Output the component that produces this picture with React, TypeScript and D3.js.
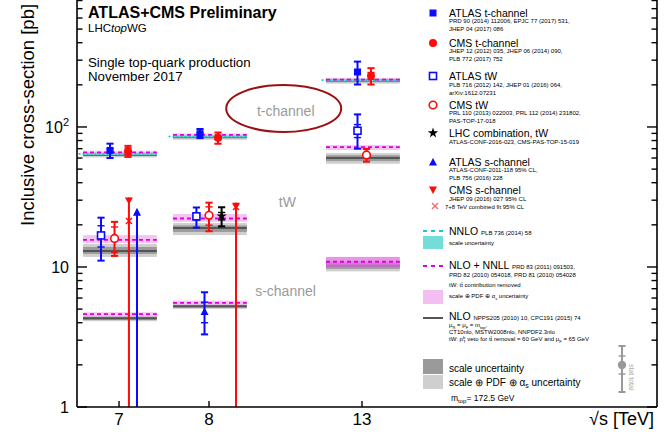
import React from 'react';
import * as d3 from 'd3';

const FONT = "'Liberation Sans', Arial, Helvetica, sans-serif";

// ---- categories ----
const energyLabels = ['7', '8', '13'];
const energyPos = [1, 2, 3.7];

// ---- theory: t-channel [7, 8, 13 TeV] ----
const tNLONNLL = [65.9, 87.8, 218];
const tNLONNLLLo = [63.9, 85.0, 212];
const tNLONNLLHi = [67.9, 90.6, 224];
const tNNLO = [64.2, 85.5, 216];
const tNNLOLo = [63.0, 84.2, 212];
const tNNLOHi = [65.4, 86.8, 220];
const tNLO = [63.4, 84.7, 214];
const tNLOScaleLo = [62.0, 83.0, 209];
const tNLOScaleHi = [64.8, 86.4, 219];
const tNLOTotLo = [60.6, 81.0, 204];
const tNLOTotHi = [66.2, 88.2, 224];

// ---- theory: tW ----
const wNLONNLL = [15.6, 22.2, 71.7];
const wNLONNLLLo = [14.8, 21.0, 68.4];
const wNLONNLLHi = [16.9, 23.9, 74.3];
const wNLO = [13.0, 19.0, 60.1];
const wNLOScaleLo = [12.4, 17.8, 57.1];
const wNLOScaleHi = [13.9, 19.8, 62.8];
const wNLOTotLo = [11.8, 16.9, 54.6];
const wNLOTotHi = [14.6, 20.6, 65.0];

// ---- theory: s-channel ----
const sNLONNLL = [4.6, 5.55, 10.9];
const sNLONNLLLo = [4.45, 5.38, 9.9];
const sNLONNLLHi = [4.75, 5.75, 11.8];
const sNLO = [4.3, 5.25, 10.2];
const sNLOScaleLo = [4.18, 5.12, 9.7];
const sNLOScaleHi = [4.42, 5.38, 10.7];
const sNLOTotLo = [4.1, 5.02, 9.3];
const sNLOTotHi = [4.5, 5.5, 11.0];

// ---- measurements ----
const atlasT = [68, 89.6, 247];
const atlasTUp = [8, 7.1, 46];
const atlasTDn = [8, 6.3, 46];
const atlasTStat = [2.0, 1.2, 6];
const cmsT = [67.2, 83.6, 232];
const cmsTErr = [6.1, 7.7, 31];
const cmsTStat = [3.7, 2.3, 13];
const atlasW = [16.8, 23.0, 94];
const atlasWUp = [5.7, 3.6, 29];
const atlasWDn = [5.7, 3.9, 24];
const atlasWStat = [2.9, 1.3, 10];
const cmsW = [16.0, 23.4, 63.1];
const cmsWUp = [5.0, 5.4, 6.6];
const cmsWDn = [4.0, 5.4, 6.6];
const cmsWStat = [3.3, 3.5, 1.8];
const lhcW = [23.1]; // 8 TeV
const lhcWErr = [3.6];
const lhcWStat = [1.4];
const atlasS = [4.8]; // 8 TeV
const atlasSUp = [1.8];
const atlasSDn = [1.5];
const atlasSStat = [0.8];
const atlasSLimit = [26.5]; // 7 TeV, 95% CL
const cmsSLimit = [31.4, 28.8]; // 7, 8 TeV, 95% CL
const cmsSComb = [21.3, 26.8]; // 7+8 TeV combined fit 95% CL

// ---- legend texts ----
const legendMain = [
  { name: 'ATLAS t-channel', refs: ['PRD 90 (2014) 112006, EPJC 77 (2017) 531,', 'JHEP 04 (2017) 086'] },
  { name: 'CMS t-channel', refs: ['JHEP 12 (2012) 035, JHEP 06 (2014) 090,', 'PLB 772 (2017) 752'] },
  { name: 'ATLAS tW', refs: ['PLB 716 (2012) 142, JHEP 01 (2016) 064,', 'arXiv:1612.07231'] },
  { name: 'CMS tW', refs: ['PRL 110 (2013) 022003, PRL 112 (2014) 231802,', 'PAS-TOP-17-018'] },
  { name: 'LHC combination, tW', refs: ['ATLAS-CONF-2016-023, CMS-PAS-TOP-15-019'] },
  { name: 'ATLAS s-channel', refs: ['ATLAS-CONF-2011-118 95% CL,', 'PLB 756 (2016) 228'] },
  { name: 'CMS s-channel', refs: ['JHEP 09 (2016) 027 95% CL'] },
];

const BLUE = '#0a0aff';
const RED = '#ff0a0a';
const CYAN_LINE = '#1ec8c8';
const CYAN_BAND = '#74ddd8';
const MAG = '#dd00dd';
const PINK = '#f3bff1';
const GRAY_LINE = '#555555';
const GRAY_DARK = '#9a9a9a';
const GRAY_LIGHT = '#cfcfcf';

type MarkerType = 'sqFill' | 'cirFill' | 'sqOpen' | 'cirOpen' | 'star' | 'triUp' | 'triDown' | 'cross';

function Marker({ type, cx, cy, color }: { type: MarkerType; cx: number; cy: number; color: string }) {
  switch (type) {
    case 'sqFill':
      return <rect x={cx - 3.5} y={cy - 3.5} width={7} height={7} fill={color} />;
    case 'cirFill':
      return <circle cx={cx} cy={cy} r={4} fill={color} />;
    case 'sqOpen':
      return <rect x={cx - 3.5} y={cy - 3.5} width={7} height={7} fill="white" stroke={color} strokeWidth={1.6} />;
    case 'cirOpen':
      return <circle cx={cx} cy={cy} r={3.8} fill="white" stroke={color} strokeWidth={1.6} />;
    case 'star':
      return <path d={d3.symbol().type(d3.symbolStar).size(34)() as string} transform={`translate(${cx},${cy})`} fill={color} />;
    case 'triUp':
      return <path d={`M${cx},${cy - 4} L${cx + 4},${cy + 3.5} L${cx - 4},${cy + 3.5} Z`} fill={color} />;
    case 'triDown':
      return <path d={`M${cx - 4},${cy - 3.5} L${cx + 4},${cy - 3.5} L${cx},${cy + 4} Z`} fill={color} />;
    case 'cross':
      return (
        <g stroke={color} strokeWidth={1.4}>
          <line x1={cx - 3} x2={cx + 3} y1={cy - 3} y2={cy + 3} />
          <line x1={cx - 3} x2={cx + 3} y1={cy + 3} y2={cy - 3} />
        </g>
      );
  }
  return null;
}

function ErrorBar({ cx, yTop, yBot, sTop, sBot, color }: { cx: number; yTop: number; yBot: number; sTop?: number; sBot?: number; color: string }) {
  const c = 3.6;
  return (
    <g stroke={color}>
      <line x1={cx} x2={cx} y1={yTop} y2={yBot} strokeWidth={2} />
      <line x1={cx - c} x2={cx + c} y1={yTop} y2={yTop} strokeWidth={2} />
      <line x1={cx - c} x2={cx + c} y1={yBot} y2={yBot} strokeWidth={2} />
      {sTop !== undefined && <line x1={cx - c} x2={cx + c} y1={sTop} y2={sTop} strokeWidth={1.4} />}
      {sBot !== undefined && <line x1={cx - c} x2={cx + c} y1={sBot} y2={sBot} strokeWidth={1.4} />}
    </g>
  );
}

export default function App() {
  const W = 664;
  const H = 438;
  const plot = { left: 77, right: 657, top: 0, bottom: 407 };
  const x = d3.scaleLinear().domain([0.533, 6.978]).range([plot.left, plot.right]);
  const y = d3.scaleLog().domain([1, 807]).range([plot.bottom, plot.top]);

  const bandL = (i: number) => x(energyPos[i] - 0.4);
  const bandR = (i: number) => x(energyPos[i] + 0.42);

  const band = (i: number, lo: number, hi: number, fill: string, op = 1, key = '') => (
    <rect key={key} x={bandL(i)} width={bandR(i) - bandL(i)} y={y(hi)} height={y(lo) - y(hi)} fill={fill} opacity={op} />
  );
  const hline = (i: number, v: number, color: string, dash: string | undefined, sw: number, extL = 0, key = '') => (
    <line key={key} x1={x(energyPos[i] - 0.4 - extL)} x2={bandR(i)} y1={y(v)} y2={y(v)} stroke={color} strokeWidth={sw} strokeDasharray={dash} />
  );

  // offsets (axis units) of the measurement markers relative to the energy position
  const offAtlasT = [-0.1, -0.1, -0.05];
  const offCmsT = [0.1, 0.1, 0.1];
  const offAtlasW = [-0.2, -0.14, -0.05];
  const offCmsW = [-0.05, 0, 0.05];
  const offLhcW = 0.14;
  const offAtlasS = [0.2, -0.05];
  const offCmsS = [0.11, 0.3];

  const theory: React.ReactNode[] = [];
  energyPos.forEach((_, i) => {
    // t-channel
    theory.push(band(i, tNLOTotLo[i], tNLOTotHi[i], GRAY_LIGHT, 1, `t1${i}`));
    theory.push(band(i, tNLOScaleLo[i], tNLOScaleHi[i], GRAY_DARK, 1, `t2${i}`));
    theory.push(hline(i, tNLO[i], GRAY_LINE, undefined, 2, 0, `t3${i}`));
    theory.push(band(i, tNLONNLLLo[i], tNLONNLLHi[i], PINK, 0.55, `t4${i}`));
    theory.push(band(i, tNNLOLo[i], tNNLOHi[i], CYAN_BAND, 0.9, `t5${i}`));
    theory.push(hline(i, tNNLO[i], CYAN_LINE, '2,2', 1.6, 0.05, `t6${i}`));
    theory.push(hline(i, tNLONNLL[i], MAG, '4,3', 1.8, 0, `t7${i}`));
    // tW
    theory.push(band(i, wNLOTotLo[i], wNLOTotHi[i], GRAY_LIGHT, 1, `w1${i}`));
    theory.push(band(i, wNLOScaleLo[i], wNLOScaleHi[i], GRAY_DARK, 1, `w2${i}`));
    theory.push(hline(i, wNLO[i], GRAY_LINE, undefined, 2, 0, `w3${i}`));
    theory.push(band(i, wNLONNLLLo[i], wNLONNLLHi[i], PINK, 0.9, `w4${i}`));
    theory.push(hline(i, wNLONNLL[i], MAG, '4,3', 1.8, 0, `w5${i}`));
    // s-channel
    theory.push(band(i, sNLOTotLo[i], sNLOTotHi[i], GRAY_LIGHT, 1, `s1${i}`));
    theory.push(band(i, sNLOScaleLo[i], sNLOScaleHi[i], GRAY_DARK, 1, `s2${i}`));
    theory.push(hline(i, sNLO[i], GRAY_LINE, undefined, 2, 0, `s3${i}`));
    theory.push(band(i, sNLONNLLLo[i], sNLONNLLHi[i], i === 2 ? '#e070e0' : PINK, i === 2 ? 0.75 : 0.9, `s4${i}`));
    theory.push(hline(i, sNLONNLL[i], MAG, '4,3', 1.8, 0, `s5${i}`));
  });

  const meas: React.ReactNode[] = [];
  energyPos.forEach((p, i) => {
    // t-channel
    {
      const cx = x(p + offAtlasT[i]);
      meas.push(
        <g key={`at${i}`}>
          <ErrorBar cx={cx} yTop={y(atlasT[i] + atlasTUp[i])} yBot={y(atlasT[i] - atlasTDn[i])} sTop={y(atlasT[i] + atlasTStat[i])} sBot={y(atlasT[i] - atlasTStat[i])} color={BLUE} />
          <Marker type="sqFill" cx={cx} cy={y(atlasT[i])} color={BLUE} />
        </g>
      );
      const cx2 = x(p + offCmsT[i]);
      meas.push(
        <g key={`ct${i}`}>
          <ErrorBar cx={cx2} yTop={y(cmsT[i] + cmsTErr[i])} yBot={y(cmsT[i] - cmsTErr[i])} sTop={y(cmsT[i] + cmsTStat[i])} sBot={y(cmsT[i] - cmsTStat[i])} color={RED} />
          <Marker type="cirFill" cx={cx2} cy={y(cmsT[i])} color={RED} />
        </g>
      );
    }
    // tW
    {
      const cx = x(p + offAtlasW[i]);
      meas.push(
        <g key={`aw${i}`}>
          <ErrorBar cx={cx} yTop={y(atlasW[i] + atlasWUp[i])} yBot={y(atlasW[i] - atlasWDn[i])} sTop={y(atlasW[i] + atlasWStat[i])} sBot={y(atlasW[i] - atlasWStat[i])} color={BLUE} />
          <Marker type="sqOpen" cx={cx} cy={y(atlasW[i])} color={BLUE} />
        </g>
      );
      const cx2 = x(p + offCmsW[i]);
      meas.push(
        <g key={`cw${i}`}>
          <ErrorBar cx={cx2} yTop={y(cmsW[i] + cmsWUp[i])} yBot={y(cmsW[i] - cmsWDn[i])} sTop={y(cmsW[i] + cmsWStat[i])} sBot={y(cmsW[i] - cmsWStat[i])} color={RED} />
          <Marker type="cirOpen" cx={cx2} cy={y(cmsW[i])} color={RED} />
        </g>
      );
    }
  });
  // LHC combination tW (8 TeV)
  {
    const cx = x(energyPos[1] + offLhcW);
    meas.push(
      <g key="lhc">
        <ErrorBar cx={cx} yTop={y(lhcW[0] + lhcWErr[0])} yBot={y(lhcW[0] - lhcWErr[0])} sTop={y(lhcW[0] + lhcWStat[0])} sBot={y(lhcW[0] - lhcWStat[0])} color="#000" />
        <Marker type="star" cx={cx} cy={y(lhcW[0])} color="#000" />
      </g>
    );
  }
  // ATLAS s-channel 8 TeV
  {
    const cx = x(energyPos[1] + offAtlasS[1]);
    meas.push(
      <g key="as8">
        <ErrorBar cx={cx} yTop={y(atlasS[0] + atlasSUp[0])} yBot={y(atlasS[0] - atlasSDn[0])} sTop={y(atlasS[0] + atlasSStat[0])} sBot={y(atlasS[0] - atlasSStat[0])} color={BLUE} />
        <Marker type="triUp" cx={cx} cy={y(atlasS[0])} color={BLUE} />
      </g>
    );
  }
  // ATLAS s-channel 7 TeV limit (arrow)
  {
    const cx = x(energyPos[0] + offAtlasS[0]);
    const yt = y(atlasSLimit[0]);
    meas.push(
      <g key="as7">
        <line x1={cx} x2={cx} y1={y(1)} y2={yt + 5} stroke={BLUE} strokeWidth={2} />
        <path d={`M${cx},${yt} L${cx + 4},${yt + 8} L${cx - 4},${yt + 8} Z`} fill={BLUE} />
      </g>
    );
  }
  // CMS s-channel limits
  cmsSLimit.forEach((v, i) => {
    const cx = x(energyPos[i] + offCmsS[i]);
    const yt = y(v);
    meas.push(
      <g key={`cs${i}`}>
        <line x1={cx} x2={cx} y1={y(1)} y2={yt} stroke={RED} strokeWidth={2} />
        <path d={`M${cx - 4},${yt} L${cx + 4},${yt} L${cx},${yt + 7} Z`} fill={RED} />
        <Marker type="cross" cx={cx} cy={y(cmsSComb[i])} color={RED} />
      </g>
    );
  });

  const yTicks = y.ticks();
  const isMajor = (t: number) => Math.abs(Math.log10(t) - Math.round(Math.log10(t))) < 1e-9;

  const legX = 433;
  const legT = 449;
  const mainY = [17, 47, 80, 109, 137, 166, 194];
  const legMarkers: { t: MarkerType; c: string }[] = [
    { t: 'sqFill', c: BLUE },
    { t: 'cirFill', c: RED },
    { t: 'sqOpen', c: BLUE },
    { t: 'cirOpen', c: RED },
    { t: 'star', c: '#000' },
    { t: 'triUp', c: BLUE },
    { t: 'triDown', c: RED },
  ];
  const refOffsets = [[6, 14], [6, 14], [7, 15], [6, 14], [7], [6, 14], [6.5]];

  const ellipseCx = x(2.83);
  const ellipseCy = y(135.6);

  return (
    <svg width={W} height={H} style={{ position: 'absolute', left: 0, top: 0, background: 'white' }} fontFamily={FONT}>
      <rect x={0} y={0} width={W} height={H} fill="white" />
      {/* theory bands */}
      <g>{theory}</g>
      {/* measurements */}
      <g>{meas}</g>

      {/* annotation ellipse and labels */}
      <ellipse cx={ellipseCx} cy={ellipseCy} rx={57.5} ry={23.5} fill="none" stroke="#9b1010" strokeWidth={2} />
      <text x={ellipseCx + 2} y={116} fontSize={14} fill="#9a9a9a" textAnchor="middle">t-channel</text>
      <text x={x(2.87)} y={207} fontSize={14} fill="#9a9a9a" textAnchor="middle">tW</text>
      <text x={x(2.85)} y={296} fontSize={14} fill="#9a9a9a" textAnchor="middle">s-channel</text>

      {/* frame */}
      <line x1={plot.left} x2={plot.left} y1={plot.top} y2={plot.bottom} stroke="#000" strokeWidth={1.6} />
      <line x1={plot.right} x2={plot.right} y1={plot.top} y2={plot.bottom} stroke="#000" strokeWidth={1.6} />
      <line x1={plot.left} x2={plot.right} y1={plot.bottom} y2={plot.bottom} stroke="#000" strokeWidth={1.6} />

      {/* y ticks */}
      {yTicks.map((t) => {
        const len = isMajor(t) ? 10 : 5.5;
        return (
          <g key={`yt${t}`} stroke="#000" strokeWidth={1.4}>
            <line x1={plot.left} x2={plot.left + len} y1={y(t)} y2={y(t)} />
            <line x1={plot.right - len} x2={plot.right} y1={y(t)} y2={y(t)} />
          </g>
        );
      })}
      {yTicks.filter(isMajor).map((t) => {
        const e = Math.round(Math.log10(t));
        return (
          <text key={`yl${t}`} x={69} y={y(t) + 6} fontSize={16} textAnchor="end" fill="#000">
            {e === 2 ? (
              <>
                10<tspan dy={-7} fontSize={11}>2</tspan>
              </>
            ) : (
              String(t)
            )}
          </text>
        );
      })}
      {/* x ticks */}
      {energyPos.map((p, i) => (
        <g key={`xt${i}`}>
          <line x1={x(p)} x2={x(p)} y1={plot.bottom} y2={plot.bottom - 6} stroke="#000" strokeWidth={1.4} />
          <text x={x(p)} y={425} fontSize={17} textAnchor="middle" fill="#000">{energyLabels[i]}</text>
        </g>
      ))}
      <text x={654} y={425} fontSize={18} textAnchor="end" fill="#000">√s [TeV]</text>
      <text transform="translate(34,226) rotate(-90)" fontSize={18.5} fill="#000">Inclusive cross-section [pb]</text>

      {/* title */}
      <text x={88} y={18} fontSize={16} fontWeight="bold" fill="#000">ATLAS+CMS Preliminary</text>
      <text x={88} y={32} fontSize={11.5} fill="#000">LHC<tspan fontStyle="italic">top</tspan>WG</text>
      <text x={88} y={67} fontSize={13.3} fill="#000">Single top-quark production</text>
      <text x={88} y={81} fontSize={13.3} fill="#000">November 2017</text>

      {/* legend: measurements */}
      {legendMain.map((e, i) => (
        <g key={`lg${i}`}>
          <Marker type={legMarkers[i].t} cx={legX} cy={mainY[i] - 4} color={legMarkers[i].c} />
          <text x={legT} y={mainY[i]} fontSize={10.5} fill="#000">{e.name}</text>
          {e.refs.map((r, j) => (
            <text key={j} x={legT} y={mainY[i] + refOffsets[i][j]} fontSize={6} fill="#000">{r}</text>
          ))}
        </g>
      ))}
      <Marker type="cross" cx={435} cy={206} color="#f07070" />
      <text x={445} y={208.5} fontSize={6} fill="#000">7+8 TeV combined fit 95% CL</text>

      {/* legend: theory */}
      <line x1={423} x2={443} y1={231} y2={231} stroke={CYAN_LINE} strokeWidth={2} strokeDasharray="4,4" />
      <text x={legT} y={235} fontSize={10.5} fill="#000">NNLO <tspan fontSize={6}>PLB 736 (2014) 58</tspan></text>
      <rect x={423} y={236} width={20} height={13} fill={CYAN_BAND} />
      <text x={legT} y={245} fontSize={6} fill="#000">scale uncertainty</text>

      <line x1={423} x2={443} y1={266} y2={266} stroke={MAG} strokeWidth={2} strokeDasharray="4,4" />
      <text x={legT} y={269} fontSize={10.5} fill="#000">NLO + NNLL <tspan fontSize={6}>PRD 83 (2011) 091503,</tspan></text>
      <text x={legT} y={277} fontSize={6} fill="#000">PRD 82 (2010) 054018, PRD 81 (2010) 054028</text>
      <text x={legT} y={287} fontSize={6} fill="#000">tW: tt̄ contribution removed</text>
      <rect x={423} y={290} width={20} height={14} fill={PINK} />
      <text x={legT} y={298} fontSize={6} fill="#000">scale ⊕ PDF ⊕ α<tspan dy={1.5} fontSize={4}>s</tspan><tspan dy={-1.5}> uncertainty</tspan></text>

      <line x1={423} x2={443} y1={318} y2={318} stroke={GRAY_LINE} strokeWidth={2} />
      <text x={legT} y={320} fontSize={10.5} fill="#000">NLO <tspan fontSize={6}>NPPS205 (2010) 10, CPC191 (2015) 74</tspan></text>
      <text x={legT} y={327} fontSize={6} fill="#000">μ<tspan dy={1.5} fontSize={4}>R</tspan><tspan dy={-1.5}> = μ</tspan><tspan dy={1.5} fontSize={4}>F</tspan><tspan dy={-1.5}> = m</tspan><tspan dy={1.5} fontSize={4}>top</tspan><tspan dy={-1.5}>,</tspan></text>
      <text x={legT} y={334} fontSize={6} fill="#000">CT10nlo, MSTW2008nlo, NNPDF2.3nlo</text>
      <text x={legT} y={341} fontSize={6} fill="#000">tW: p<tspan dy={-2} fontSize={4}>b</tspan><tspan dx={-2} dy={3.5} fontSize={4}>T</tspan><tspan dy={-1.5}> veto for tt̄ removal = 60 GeV and μ</tspan><tspan dy={1.5} fontSize={4}>F</tspan><tspan dy={-1.5}> = 65 GeV</tspan></text>

      <rect x={423} y={359} width={20} height={15} fill={GRAY_DARK} />
      <text x={legT} y={372} fontSize={10} fill="#000">scale uncertainty</text>
      <rect x={423} y={375} width={20} height={14} fill={GRAY_LIGHT} />
      <text x={legT} y={386} fontSize={10} fill="#000">scale ⊕ PDF ⊕ α<tspan dy={2} fontSize={7}>s</tspan><tspan dy={-2}> uncertainty</tspan></text>
      <text x={legT + 2} y={401} fontSize={8.5} fill="#000">m<tspan dy={2} fontSize={6}>top</tspan><tspan dy={-2}>= 172.5 GeV</tspan></text>

      {/* stat / total legend */}
      <g stroke="#999" >
        <line x1={622} x2={622} y1={346} y2={392} strokeWidth={2} />
        <line x1={618.5} x2={625.5} y1={346} y2={346} strokeWidth={2} />
        <line x1={618.5} x2={625.5} y1={392} y2={392} strokeWidth={2} />
        <line x1={618.5} x2={625.5} y1={356} y2={356} strokeWidth={1.4} />
        <line x1={618.5} x2={625.5} y1={374} y2={374} strokeWidth={1.4} />
      </g>
      <circle cx={622} cy={365} r={4.2} fill="#999" />
      <text transform="translate(629,364) rotate(90)" fontSize={7} fill="#aaa">stat  total</text>
    </svg>
  );
}
